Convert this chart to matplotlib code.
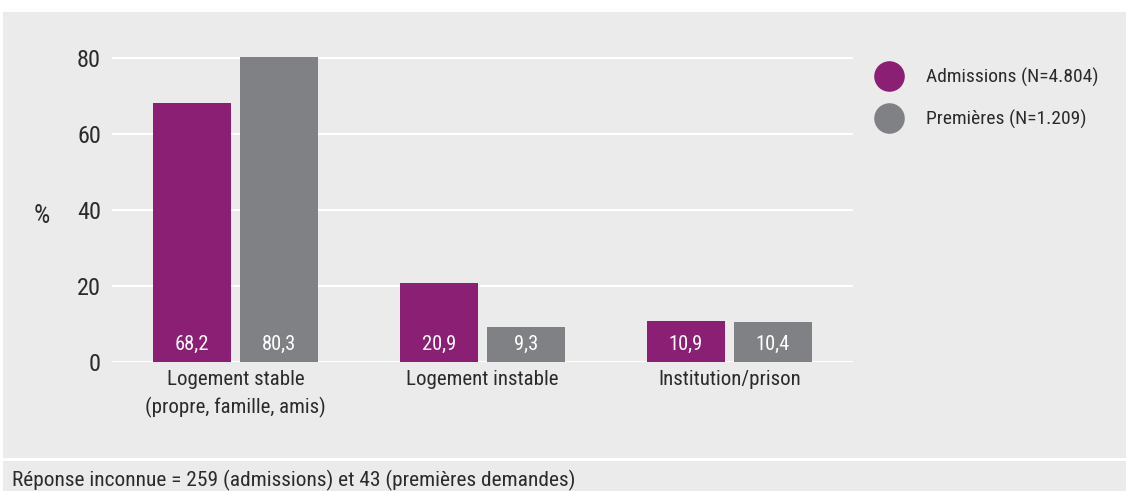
import matplotlib.pyplot as plt
from matplotlib.patches import Rectangle
from matplotlib.lines import Line2D
import numpy as np

plt.rcParams['font.family'] = ['Roboto Condensed', 'Open Sans Condensed', 'Liberation Sans Narrow',
                               'Roboto', 'DejaVu Sans']
plt.rcParams['font.stretch'] = 'condensed'

# data
categories = ['Logement stable\n(propre, famille, amis)', 'Logement instable', 'Institution/prison']
admissions = [68.2, 20.9, 10.9]
premieres = [80.3, 9.3, 10.4]
series_names = ['Admissions (N=4.804)', 'Premières (N=1.209)']
footnote = 'Réponse inconnue = 259 (admissions) et 43 (premières demandes)'

purple = '#8a1f73'
grey = '#808184'
panel = '#ebebeb'
txt = '#2b2b2b'

fig = plt.figure(figsize=(11.26, 4.91), dpi=100)
fig.patch.set_facecolor('white')

# grey panels behind chart and footnote
fig.patches.append(Rectangle((3 / 1126, 33 / 491), 1, 446 / 491, transform=fig.transFigure,
                             facecolor=panel, edgecolor='none', zorder=-10))
fig.patches.append(Rectangle((3 / 1126, 0), 1, 30 / 491, transform=fig.transFigure,
                             facecolor=panel, edgecolor='none', zorder=-10))

ax = fig.add_axes([112 / 1126, 129 / 491, 741 / 1126, 307.8 / 491])
ax.set_facecolor('none')

x = np.arange(len(categories))
w = 0.316
off = 0.176
b1 = ax.bar(x - off, admissions, w, color=purple, zorder=3)
b2 = ax.bar(x + off, premieres, w, color=grey, zorder=3)

for xs, vals in [(x - off, admissions), (x + off, premieres)]:
    for xi, v in zip(xs, vals):
        ax.text(xi, 4.7, f'{v:.1f}'.replace('.', ','), ha='center', va='center',
                color='white', fontsize=14.8, zorder=4)

ax.set_xlim(-0.5, 2.5)
ax.set_ylim(0, 81)
ax.set_yticks([0, 20, 40, 60, 80])
ax.yaxis.grid(True, color='white', linewidth=1.5, zorder=0)
ax.set_axisbelow(True)
for s in ax.spines.values():
    s.set_visible(False)
ax.tick_params(axis='y', length=0, pad=8, labelsize=17.5, labelcolor=txt)
ax.tick_params(axis='x', length=0, pad=6, labelsize=15, labelcolor=txt)
ax.set_xticks(x)
ax.set_xticklabels(categories, linespacing=1.45)

fig.text(34 / 1126, 1 - 216 / 491, '%', fontsize=18.5, color=txt, va='center', ha='left')

handles = [Line2D([], [], marker='o', linestyle='none', markersize=21, color=c) for c in (purple, grey)]
fig.legend(handles, series_names, loc='upper left', bbox_to_anchor=(870 / 1126, 1 - 68 / 491),
           frameon=False, fontsize=14, labelcolor=txt, handletextpad=0.88,
           labelspacing=1.18, borderaxespad=0, borderpad=0)

fig.text(12 / 1126, 5 / 491, footnote, fontsize=15.4, color=txt, va='baseline', ha='left')

fig.savefig('out.png', dpi=100)
